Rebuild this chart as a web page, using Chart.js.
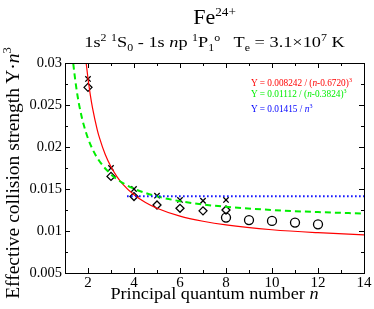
<!DOCTYPE html>
<html>
<head>
<meta charset="utf-8">
<script src="https://cdn.jsdelivr.net/npm/chart.js@4/dist/chart.umd.min.js"></script>
<style>
  html, body { margin: 0; padding: 0; background: #fff; }
  #wrap { position: relative; width: 374px; height: 309px; overflow: hidden; font-family: "Liberation Serif", "Times New Roman", serif; color: #000; }
  canvas { position: absolute; left: 0; top: 0; }
  .txt { position: absolute; white-space: nowrap; }
  .sup { font-size: 65%; position: relative; top: -0.62em; }
  .sub { font-size: 65%; position: relative; top: 0.38em; }
  i { font-style: italic; }
</style>
</head>
<body>
<div id="wrap">
  <canvas id="c" width="374" height="309"></canvas>
  <div class="txt" id="title" style="left:65px; width:299px; top:5px; text-align:center; font-size:22px; line-height:24px;">Fe<span class="sup" style="font-size:60%;">24+</span></div>
  <div class="txt" id="subtitle" style="left:65px; width:299px; top:34px; text-align:center; font-size:15px; line-height:17px; transform:scaleX(1.22);">1s<span class="sup">2</span> <span class="sup">1</span>S<span class="sub">0</span> - 1s <i>n</i>p <span class="sup">1</span>P<span class="sub">1</span><span class="sup">o</span>&nbsp;&nbsp; T<span class="sub">e</span> = 3.1×10<span class="sup">7</span> K</div>
  <div class="txt" id="xtitle" style="left:65px; width:299px; top:285px; text-align:center; font-size:16px; line-height:18px; transform:scaleX(1.14);">Principal quantum number <i>n</i></div>
  <div class="txt" id="ytitle" style="left:-116px; width:260px; top:162px; text-align:center; font-size:19.5px; line-height:20px; transform:rotate(-90deg);">Effective collision strength Y·<i>n</i><span class="sup">3</span></div>
  <div class="txt" style="left:251px; top:77.5px; font-size:9.3px; line-height:10px; color:#ff0000;">Y = 0.008242 / (<i>n</i>-0.6720)<span class="sup">3</span></div>
  <div class="txt" style="left:251px; top:89px; font-size:9.3px; line-height:10px; color:#00ee00;">Y = 0.01112 / (<i>n</i>-0.3824)<span class="sup">3</span></div>
  <div class="txt" style="left:251px; top:104px; font-size:9.3px; line-height:10px; color:#0000ff;">Y = 0.01415 / <i>n</i><span class="sup">3</span></div>
</div>
<script>
// ---- data ----
const crossN = [2, 3, 4, 5, 6, 7, 8];
const crossY = [0.0281, 0.0175, 0.0150, 0.0142, 0.0137, 0.0136, 0.0137];
const diamondN = [2, 3, 4, 5, 6, 7, 8];
const diamondY = [0.0271, 0.0165, 0.0141, 0.0131, 0.0127, 0.0124, 0.0125];
const circleN = [8, 9, 10, 11, 12];
const circleY = [0.0116, 0.0113, 0.0112, 0.0110, 0.0108];
const redN = [1.92, 2.0, 2.1, 2.2, 2.4, 2.5, 2.75, 3.0, 3.25, 3.5, 4.0, 4.5, 5, 6, 7, 8, 10, 12, 14];
const redY = [0.0300, 0.02815, 0.02621, 0.0246, 0.02208, 0.02108, 0.0191, 0.01764, 0.01651, 0.01562, 0.01431, 0.01339, 0.01271, 0.01177, 0.01116, 0.01072, 0.01015, 0.0098, 0.00955];
const greenN = [1.36, 1.4, 1.5, 1.6, 1.75, 1.8, 2.0, 2.25, 2.5, 3.0, 3.5, 4.0, 4.5, 5, 6, 7, 8, 10, 12, 14];
const greenY = [0.02994, 0.02896, 0.02689, 0.02523, 0.0233, 0.02277, 0.02102, 0.01945, 0.0183, 0.01674, 0.01573, 0.01503, 0.01452, 0.01412, 0.01355, 0.01316, 0.01288, 0.0125, 0.01225, 0.01208];
const blueN = [3.7, 14];
const blueY = [0.01415, 0.01415];
const xTicks = [2, 4, 6, 8, 10, 12, 14];
const yTicks = [0.005, 0.01, 0.015, 0.02, 0.025, 0.03];

const pts = (xs, ys) => xs.map((x, i) => ({ x: x, y: ys[i] }));

const frameTicks = {
  id: 'frameTicks',
  afterDraw(chart) {
    const ctx = chart.ctx, a = chart.chartArea;
    const xs = chart.scales.x, ys = chart.scales.y;
    ctx.save();
    ctx.strokeStyle = '#000';
    ctx.lineWidth = 1;
    ctx.strokeRect(Math.round(a.left) + 0.5, Math.round(a.top) + 0.5, Math.round(a.right - a.left), Math.round(a.bottom - a.top));
    const L = 5, l = 3;
    ctx.beginPath();
    for (let v = 1; v <= 14; v += 1) {
      const px = Math.round(xs.getPixelForValue(v)) + 0.5;
      const len = (v % 2 === 0) ? L : l;
      ctx.moveTo(px, a.bottom); ctx.lineTo(px, a.bottom - len);
      ctx.moveTo(px, a.top); ctx.lineTo(px, a.top + len);
    }
    for (let k = 2; k <= 12; k++) {
      const v = k * 0.0025;
      const py = Math.round(ys.getPixelForValue(v)) + 0.5;
      const len = (k % 2 === 0) ? L : l;
      ctx.moveTo(a.left, py); ctx.lineTo(a.left + len, py);
      ctx.moveTo(a.right, py); ctx.lineTo(a.right - len, py);
    }
    ctx.stroke();
    ctx.restore();
  }
};

new Chart(document.getElementById('c'), {
  type: 'scatter',
  data: {
    datasets: [
      { data: pts(blueN, blueY), showLine: true, borderColor: '#0000ff', borderWidth: 2, borderDash: [1.5, 2.5], pointRadius: 0, fill: false },
      { data: pts(greenN, greenY), showLine: true, borderColor: '#00ee00', borderWidth: 2, borderDash: [6, 4], pointRadius: 0, cubicInterpolationMode: 'monotone', fill: false },
      { data: pts(redN, redY), showLine: true, borderColor: '#ff0000', borderWidth: 1.2, pointRadius: 0, cubicInterpolationMode: 'monotone', fill: false },
      { data: pts(crossN, crossY), showLine: false, pointStyle: 'crossRot', pointRadius: 3.8, borderColor: '#000', borderWidth: 1.3 },
      { data: pts(diamondN, diamondY), showLine: false, pointStyle: 'rectRot', pointRadius: 4, borderColor: '#000', backgroundColor: 'rgba(0,0,0,0)', borderWidth: 1.3 },
      { data: pts(circleN, circleY), showLine: false, pointStyle: 'circle', pointRadius: 4.5, borderColor: '#000', backgroundColor: 'rgba(0,0,0,0)', borderWidth: 1.3 }
    ]
  },
  options: {
    responsive: false,
    animation: false,
    layout: { padding: { left: 0, right: 10, top: 63, bottom: 0 } },
    plugins: { legend: { display: false }, tooltip: { enabled: false }, title: { display: false } },
    scales: {
      x: {
        type: 'linear', min: 1, max: 14,
        afterBuildTicks: s => { s.ticks = xTicks.map(v => ({ value: v })); },
        afterFit: s => { s.height = 36; },
        grid: { display: false, drawTicks: false },
        border: { display: false },
        ticks: { color: '#000', padding: 1, font: { family: 'Liberation Serif', size: 15 }, maxRotation: 0, callback: v => String(v) }
      },
      y: {
        type: 'linear', min: 0.005, max: 0.03,
        afterBuildTicks: s => { s.ticks = yTicks.map(v => ({ value: v })); },
        afterFit: s => { s.width = 65; },
        grid: { display: false, drawTicks: false },
        border: { display: false },
        ticks: { color: '#000', padding: 3, font: { family: 'Liberation Serif', size: 14.5 }, callback: v => String(Math.round(v * 1000) / 1000) }
      }
    }
  },
  plugins: [frameTicks]
});
</script>
</body>
</html>
